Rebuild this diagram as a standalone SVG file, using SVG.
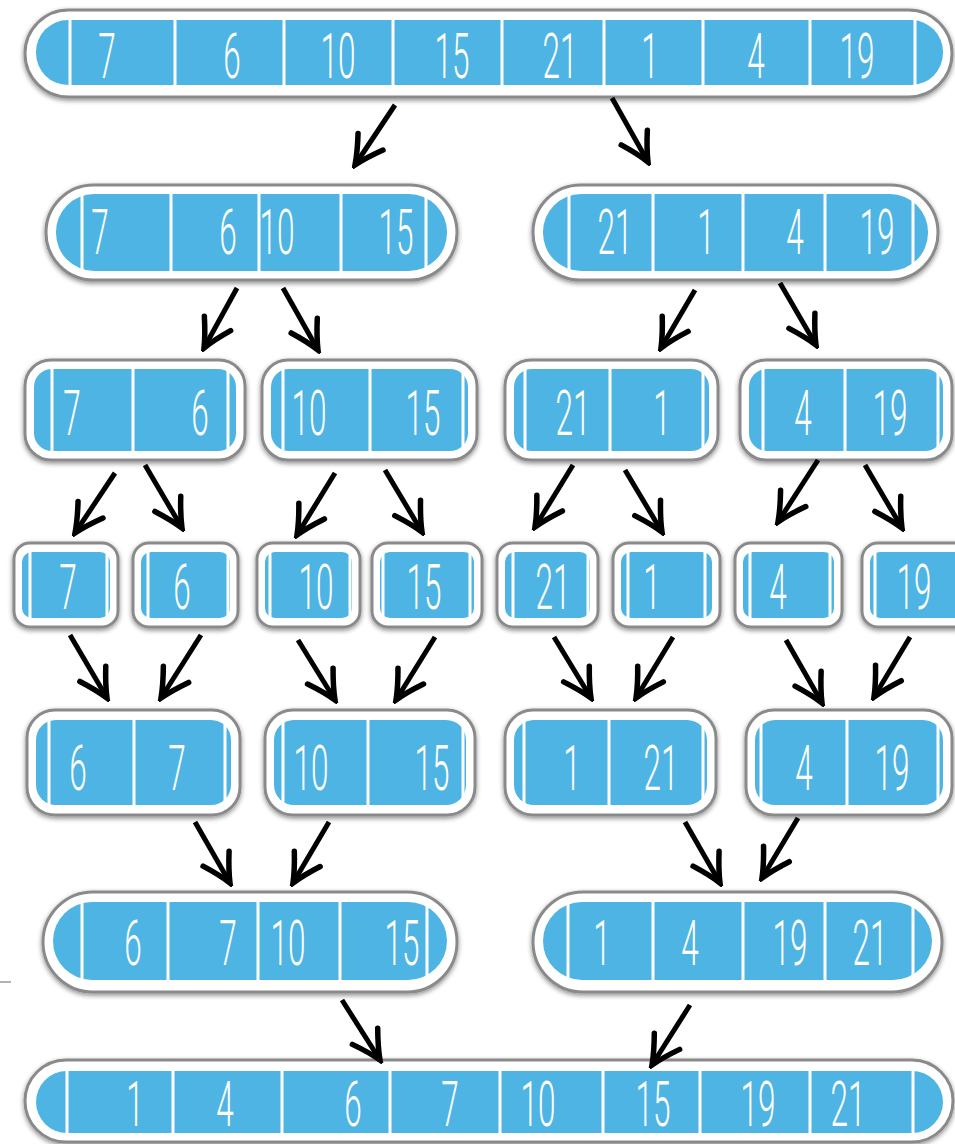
<svg xmlns="http://www.w3.org/2000/svg" width="955" height="1144" viewBox="0 0 955 1144">
<defs>
<filter id="sh" x="-10%" y="-20%" width="120%" height="150%">
<feGaussianBlur in="SourceAlpha" stdDeviation="2.5"/>
<feOffset dx="0" dy="2" result="b"/>
<feComponentTransfer><feFuncA type="linear" slope="0.45"/></feComponentTransfer>
<feMerge><feMergeNode/><feMergeNode in="SourceGraphic"/></feMerge>
</filter>
<marker id="ah" markerUnits="userSpaceOnUse" viewBox="-34 -20 38 40" markerWidth="38" markerHeight="40" refX="0" refY="0" orient="auto">
<path d="M-28,-15 Q-12,-5 0,0 Q-12,5 -28,15" fill="none" stroke="#000" stroke-width="5.5" stroke-linejoin="miter" stroke-linecap="round"/>
</marker>
</defs>
<style>
.o{fill:#fff;stroke:#8a8a8a;stroke-width:3;filter:url(#sh)}
.b{fill:#4db4e4}
.s{stroke:#fff;stroke-width:3;fill:none}
.t{font-family:Roboto,"Liberation Sans",sans-serif;font-weight:300;font-size:63px;fill:#fff;text-anchor:middle}
.a{stroke:#000;stroke-width:5;fill:none;marker-end:url(#ah)}
.g{stroke:#9a9a9a;stroke-width:1.5}
</style>
<rect width="955" height="1144" fill="#fff"/>
<line class="g" x1="0" y1="982" x2="11" y2="982"/>

<g id="n_7_6_10_15_21_1_4_19">
<rect class="o" x="25" y="10" width="927" height="87" rx="43.5"/>
<rect class="b" x="36" y="20" width="907" height="65" rx="32"/>
<path class="s" d="M70,20V85M175,20V85M284,20V85M393,20V85M502,20V85M604,20V85M703,20V85M810,20V85M915,20V85"/>
<text class="t" transform="translate(107,78) scale(0.5,1)">7</text>
<text class="t" transform="translate(232,78) scale(0.5,1)">6</text>
<text class="t" transform="translate(338,78) scale(0.5,1)">10</text>
<text class="t" transform="translate(452,78) scale(0.5,1)">15</text>
<text class="t" transform="translate(560,78) scale(0.5,1)">21</text>
<text class="t" transform="translate(650,78) scale(0.5,1)">1</text>
<text class="t" transform="translate(756,78) scale(0.5,1)">4</text>
<text class="t" transform="translate(857,78) scale(0.5,1)">19</text>
</g>

<g id="n_7_6_10_15">
<rect class="o" x="46" y="185" width="411" height="95" rx="47.5"/>
<rect class="b" x="56" y="194" width="391" height="77" rx="38"/>
<path class="s" d="M82,194V271M171,194V271M259,194V271M341,194V271M426,194V271"/>
<text class="t" transform="translate(100,254) scale(0.5,1)">7</text>
<text class="t" transform="translate(228,254) scale(0.5,1)">6</text>
<text class="t" transform="translate(277,254) scale(0.5,1)">10</text>
<text class="t" transform="translate(396,254) scale(0.5,1)">15</text>
</g>

<g id="n_21_1_4_19">
<rect class="o" x="533" y="185" width="405" height="95" rx="47.5"/>
<rect class="b" x="543" y="194" width="385" height="77" rx="38"/>
<path class="s" d="M569,194V271M653,194V271M743,194V271M825,194V271M913,194V271"/>
<text class="t" transform="translate(615,254) scale(0.5,1)">21</text>
<text class="t" transform="translate(706,254) scale(0.5,1)">1</text>
<text class="t" transform="translate(795,254) scale(0.5,1)">4</text>
<text class="t" transform="translate(877,254) scale(0.5,1)">19</text>
</g>

<g id="n_7_6">
<rect class="o" x="25" y="360" width="220" height="100" rx="26"/>
<rect class="b" x="34" y="369" width="202" height="82" rx="18"/>
<path class="s" d="M52,369V451M133,369V451M228,369V451"/>
<text class="t" transform="translate(72,435) scale(0.5,1)">7</text>
<text class="t" transform="translate(200,435) scale(0.5,1)">6</text>
</g>
<g id="n_10_15">
<rect class="o" x="262" y="360" width="215" height="100" rx="26"/>
<rect class="b" x="271" y="369" width="197" height="82" rx="18"/>
<path class="s" d="M283,369V451M370,369V451M463,369V451"/>
<text class="t" transform="translate(309,435) scale(0.5,1)">10</text>
<text class="t" transform="translate(423,435) scale(0.5,1)">15</text>
</g>
<g id="n_21_1">
<rect class="o" x="505" y="360" width="213" height="100" rx="26"/>
<rect class="b" x="514" y="369" width="195" height="82" rx="18"/>
<path class="s" d="M525,369V451M610,369V451M703,369V451"/>
<text class="t" transform="translate(573,435) scale(0.5,1)">21</text>
<text class="t" transform="translate(662,435) scale(0.5,1)">1</text>
</g>
<g id="n_4_19">
<rect class="o" x="740" y="360" width="212" height="100" rx="26"/>
<rect class="b" x="749" y="369" width="194" height="82" rx="18"/>
<path class="s" d="M763,369V451M845,369V451M938,369V451"/>
<text class="t" transform="translate(803,435) scale(0.5,1)">4</text>
<text class="t" transform="translate(890,435) scale(0.5,1)">19</text>
</g>

<g id="n_7">
<rect class="o" x="14" y="543" width="104" height="84" rx="16"/>
<rect class="b" x="22" y="552" width="88" height="66" rx="10"/>
<path class="s" d="M30,552V618M107,552V618"/>
<text class="t" transform="translate(68,609) scale(0.5,1)">7</text>
</g>
<g id="n_6">
<rect class="o" x="133" y="543" width="105" height="84" rx="16"/>
<rect class="b" x="141" y="552" width="89" height="66" rx="10"/>
<path class="s" d="M148,552V618M228,552V618"/>
<text class="t" transform="translate(182,609) scale(0.5,1)">6</text>
</g>
<g id="n_10">
<rect class="o" x="257" y="543" width="103" height="84" rx="16"/>
<rect class="b" x="265" y="552" width="87" height="66" rx="10"/>
<path class="s" d="M270,552V618M350,552V618"/>
<text class="t" transform="translate(316,609) scale(0.5,1)">10</text>
</g>
<g id="n_15">
<rect class="o" x="372" y="543" width="110" height="84" rx="16"/>
<rect class="b" x="380" y="552" width="94" height="66" rx="10"/>
<path class="s" d="M383,552V618M470,552V618"/>
<text class="t" transform="translate(424,609) scale(0.5,1)">15</text>
</g>
<g id="n_21">
<rect class="o" x="497" y="543" width="101" height="84" rx="16"/>
<rect class="b" x="505" y="552" width="85" height="66" rx="10"/>
<path class="s" d="M513,552V618M588,552V618"/>
<text class="t" transform="translate(553,609) scale(0.5,1)">21</text>
</g>
<g id="n_1">
<rect class="o" x="613" y="543" width="107" height="84" rx="16"/>
<rect class="b" x="621" y="552" width="91" height="66" rx="10"/>
<path class="s" d="M628,552V618M705,552V618"/>
<text class="t" transform="translate(652,609) scale(0.5,1)">1</text>
</g>
<g id="n_4">
<rect class="o" x="735" y="543" width="107" height="84" rx="16"/>
<rect class="b" x="743" y="552" width="91" height="66" rx="10"/>
<path class="s" d="M750,552V618M830,552V618"/>
<text class="t" transform="translate(778,609) scale(0.5,1)">4</text>
</g>
<g id="n_19">
<rect class="o" x="862" y="543" width="110" height="84" rx="16"/>
<rect class="b" x="870" y="552" width="94" height="66" rx="10"/>
<path class="s" d="M875,552V618M958,552V618"/>
<text class="t" transform="translate(914,609) scale(0.5,1)">19</text>
</g>

<g id="n_6_7">
<rect class="o" x="27" y="710" width="213" height="105" rx="28"/>
<rect class="b" x="36" y="720" width="195" height="85" rx="20"/>
<path class="s" d="M49,720V805M134,720V805M225,720V805"/>
<text class="t" transform="translate(78,790) scale(0.5,1)">6</text>
<text class="t" transform="translate(177,790) scale(0.5,1)">7</text>
</g>
<g id="n_10_15b">
<rect class="o" x="265" y="710" width="210" height="105" rx="28"/>
<rect class="b" x="274" y="720" width="192" height="85" rx="20"/>
<path class="s" d="M283,720V805M368,720V805M463,720V805"/>
<text class="t" transform="translate(311,790) scale(0.5,1)">10</text>
<text class="t" transform="translate(432,790) scale(0.5,1)">15</text>
</g>
<g id="n_1_21">
<rect class="o" x="505" y="710" width="211" height="105" rx="28"/>
<rect class="b" x="514" y="720" width="193" height="85" rx="20"/>
<path class="s" d="M524,720V805M609,720V805M703,720V805"/>
<text class="t" transform="translate(572,790) scale(0.5,1)">1</text>
<text class="t" transform="translate(661,790) scale(0.5,1)">21</text>
</g>
<g id="n_4_19b">
<rect class="o" x="746" y="710" width="206" height="105" rx="28"/>
<rect class="b" x="755" y="720" width="188" height="85" rx="20"/>
<path class="s" d="M761,720V805M847,720V805M938,720V805"/>
<text class="t" transform="translate(804,790) scale(0.5,1)">4</text>
<text class="t" transform="translate(892,790) scale(0.5,1)">19</text>
</g>

<g id="n_6_7_10_15">
<rect class="o" x="43" y="892" width="414" height="100" rx="50"/>
<rect class="b" x="53" y="902" width="394" height="78" rx="39"/>
<path class="s" d="M82,902V980M168,902V980M258,902V980M340,902V980M427,902V980"/>
<text class="t" transform="translate(133,965) scale(0.5,1)">6</text>
<text class="t" transform="translate(228,965) scale(0.5,1)">7</text>
<text class="t" transform="translate(288,965) scale(0.5,1)">10</text>
<text class="t" transform="translate(402,965) scale(0.5,1)">15</text>
</g>
<g id="n_1_4_19_21">
<rect class="o" x="533" y="892" width="409" height="100" rx="50"/>
<rect class="b" x="543" y="902" width="389" height="78" rx="39"/>
<path class="s" d="M568,902V980M653,902V980M743,902V980M825,902V980M913,902V980"/>
<text class="t" transform="translate(602,965) scale(0.5,1)">1</text>
<text class="t" transform="translate(690,965) scale(0.5,1)">4</text>
<text class="t" transform="translate(790,965) scale(0.5,1)">19</text>
<text class="t" transform="translate(870,965) scale(0.5,1)">21</text>
</g>

<g id="n_sorted">
<rect class="o" x="25" y="1060" width="928" height="82" rx="41"/>
<rect class="b" x="36" y="1071" width="907" height="62" rx="31"/>
<path class="s" d="M67,1071V1133M173,1071V1133M282,1071V1133M390,1071V1133M500,1071V1133M603,1071V1133M700,1071V1133M810,1071V1133M913,1071V1133"/>
<text class="t" transform="translate(135,1126) scale(0.5,1)">1</text>
<text class="t" transform="translate(225,1126) scale(0.5,1)">4</text>
<text class="t" transform="translate(353,1126) scale(0.5,1)">6</text>
<text class="t" transform="translate(450,1126) scale(0.5,1)">7</text>
<text class="t" transform="translate(538,1126) scale(0.5,1)">10</text>
<text class="t" transform="translate(653,1126) scale(0.5,1)">15</text>
<text class="t" transform="translate(758,1126) scale(0.5,1)">19</text>
<text class="t" transform="translate(848,1126) scale(0.5,1)">21</text>
</g>

<g id="connectors">
<path class="a" d="M395,105L355,165"/>
<path class="a" d="M612,98L648,162"/>
<path class="a" d="M237,288L204,348"/>
<path class="a" d="M283,288L318,350"/>
<path class="a" d="M695,290L661,348"/>
<path class="a" d="M780,283L816,345"/>
<path class="a" d="M115,473L75,533"/>
<path class="a" d="M145,465L182,528"/>
<path class="a" d="M335,473L297,535"/>
<path class="a" d="M385,470L422,532"/>
<path class="a" d="M573,465L535,527"/>
<path class="a" d="M625,470L662,532"/>
<path class="a" d="M818,460L778,522"/>
<path class="a" d="M865,465L902,528"/>
<path class="a" d="M70,635L107,698"/>
<path class="a" d="M201,635L161,698"/>
<path class="a" d="M298,640L335,700"/>
<path class="a" d="M435,637L396,700"/>
<path class="a" d="M554,637L591,698"/>
<path class="a" d="M673,637L636,698"/>
<path class="a" d="M786,640L822,703"/>
<path class="a" d="M910,637L874,697"/>
<path class="a" d="M195,822L230,883"/>
<path class="a" d="M329,822L293,883"/>
<path class="a" d="M685,822L720,883"/>
<path class="a" d="M798,818L762,878"/>
<path class="a" d="M342,1000L380,1060"/>
<path class="a" d="M690,1005L652,1065"/>
</g>
</svg>
